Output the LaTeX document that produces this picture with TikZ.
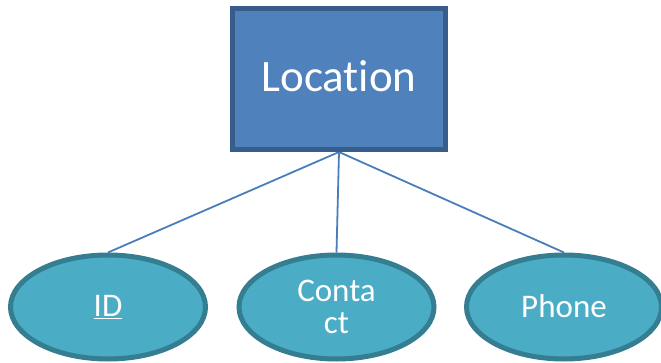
\documentclass[tikz,border=0pt]{standalone}
\usepackage{fontspec}
\setmainfont{Carlito}[Ligatures=NoCommon]
\usetikzlibrary{shapes.geometric,backgrounds}
\definecolor{entfill}{HTML}{4F81BD}
\definecolor{entline}{HTML}{385D8A}
\definecolor{attfill}{HTML}{4BACC6}
\definecolor{attline}{HTML}{357D91}
\definecolor{linkline}{HTML}{4A7EBB}
\tikzset{
  entity/.style={draw=entline, fill=entfill, line width=5pt, rectangle,
    minimum width=213pt, minimum height=141pt, inner sep=0pt,
    text=white, font=\fontsize{45}{54}\selectfont},
  attribute/.style={draw=attline, fill=attfill, line width=5pt, ellipse,
    minimum width=195pt, minimum height=104pt, inner sep=0pt,
    text=white, align=center, font=\fontsize{33}{32}\selectfont},
  link/.style={draw=linkline, line width=1.8pt}
}
\begin{document}
\begin{tikzpicture}[x=1pt,y=-1pt]
  \useasboundingbox (0,0) rectangle (661,363);
  \node[entity] (loc) at (339,79) {\raisebox{6pt}{Location}};
  \node[attribute] (id) at (108,307) {\raisebox{2pt}{\underline{ID}}};
  \node[attribute] (contact) at (336.5,307) {Conta\\ct};
  \node[attribute] (phone) at (564,307) {\raisebox{2pt}{Phone}};
  % connectors sit behind the boxes
  \begin{scope}[on background layer]
    \draw[link] (loc.south) -- (id.north);
    \draw[link] (loc.south) -- (contact.north);
    \draw[link] (loc.south) -- (phone.north);
  \end{scope}
\end{tikzpicture}
\end{document}
